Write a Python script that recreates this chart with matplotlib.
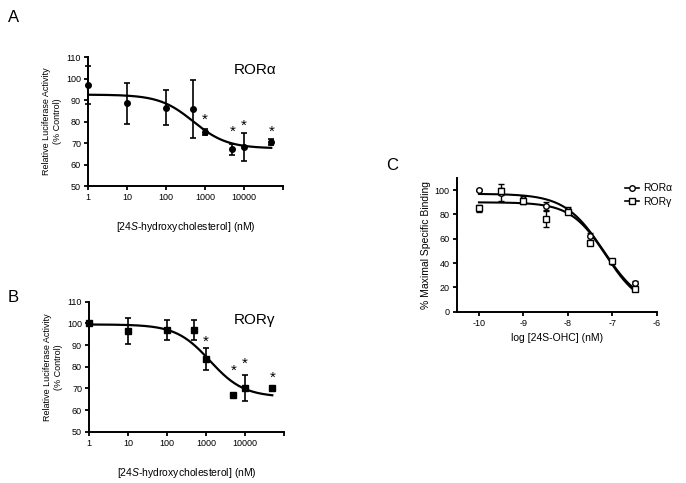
import numpy as np
import matplotlib
matplotlib.use("Agg")
import matplotlib.pyplot as plt

plt.rcParams['font.family'] = ['Liberation Sans', 'DejaVu Sans']
plt.rcParams['mathtext.fontset'] = 'custom'
plt.rcParams['mathtext.rm'] = 'Liberation Sans'
plt.rcParams['mathtext.it'] = 'Liberation Sans:italic'

# ---- Panel A / B data ----
conc = [1, 10, 100, 500, 1000, 5000, 10000, 50000]
ror_a_mean = [97, 88.5, 86.5, 86, 75, 67, 68, 70.5]
ror_a_err = [9, 9.5, 8, 13.5, 1.5, 2.5, 6.5, 1.5]
ror_a_star = [None, None, None, None, 81, 75, 78, 75]
ror_g_mean = [100, 96.5, 97, 97, 83.5, 67, 70, 70]
ror_g_err = [0.5, 6, 4.5, 4.5, 5, 1, 6, 1]
ror_g_star = [None, None, None, None, 91.5, 78, 81.5, 75]
# fitted sigmoid parameters (top, bottom, logEC50, hill)
fit_a = (92.5, 67.5, 2.7, 1.0)
fit_g = (99.5, 66.0, 3.1, 1.0)

# ---- Panel C data ----
log_c = [-10, -9.5, -9, -8.5, -8, -7.5, -7, -6.5]
bind_a = [100, 98, 93, 87, 84, 62, 41, 24]
bind_a_err = [1, 7, 2.5, 3, 2, 3, 1.5, 1.5]
bind_g = [85, 99, 91, 76.5, 82, 56.5, 42, 18.5]
bind_g_err = [3, 3, 2, 6.5, 2, 2, 1.5, 1.5]
fit_ca = (97, 3, -7.2, 1.0)
fit_cg = (90, 3, -7.15, 1.1)


def sig(logx, p):
    top, bot, lec, h = p
    return bot + (top - bot) / (1 + 10 ** ((logx - lec) * h))


fig = plt.figure(figsize=(6.86, 4.83), dpi=100)


def style_ax(ax):
    for s in ['top', 'right']:
        ax.spines[s].set_visible(False)
    for s in ['left', 'bottom']:
        ax.spines[s].set_linewidth(1.4)
    ax.tick_params(width=1.3, length=3, labelsize=6.5, pad=2)


def lum_panel(rect, mean, err, stars, fit, marker, label, letter, letter_xy, label_xy):
    ax = fig.add_axes(rect)
    style_ax(ax)
    ax.set_xscale('log')
    ax.set_xlim(1, 1e5)
    ax.set_ylim(50, 110)
    ax.set_yticks([50, 60, 70, 80, 90, 100, 110])
    ax.set_xticks([1, 10, 100, 1000, 10000, 100000])
    ax.set_xticklabels(['1', '10', '100', '1000', '10000', ''])
    ax.xaxis.set_minor_locator(matplotlib.ticker.NullLocator())
    lx = np.linspace(0, np.log10(50000), 200)
    ax.plot(10 ** lx, sig(lx, fit), color='black', lw=1.6, zorder=2)
    ax.errorbar(conc, mean, yerr=err, fmt=marker, color='black', ms=4,
                capsize=2.5, elinewidth=1.2, capthick=1.2, zorder=3, clip_on=False)
    for c, s in zip(conc, stars):
        if s is not None:
            ax.text(c, s, '*', ha='center', va='center', fontsize=11)
    ax.text(label_xy[0], label_xy[1], label, transform=ax.transAxes,
            fontsize=11, ha='left', va='center')
    ax.set_ylabel('Relative Luciferase Activity\n(% Control)', fontsize=6.5, labelpad=3)
    ax.set_xlabel('[24$\\mathit{S}$-hydroxycholesterol] (nM)', fontsize=7.5, labelpad=13)
    fig.text(letter_xy[0] / 686, 1 - letter_xy[1] / 483, letter, fontsize=12,
             ha='center', va='center')
    return ax


lum_panel([88 / 686, 1 - 186 / 483, 195 / 686, 129 / 483], ror_a_mean, ror_a_err,
          ror_a_star, fit_a, 'o', 'ROR\u03b1', 'A', (14, 18), (0.745, 0.9))
lum_panel([89 / 686, 1 - 431.7 / 483, 195 / 686, 130 / 483], ror_g_mean, ror_g_err,
          ror_g_star, fit_g, 's', 'ROR\u03b3', 'B', (13, 297), (0.74, 0.86))

# ---- Panel C ----
axc = fig.add_axes([456.7 / 686, 1 - 311.7 / 483, 200.3 / 686, 133.7 / 483])
style_ax(axc)
axc.set_xlim(-10.5, -6)
axc.set_ylim(0, 110)
axc.set_yticks([0, 20, 40, 60, 80, 100])
axc.set_xticks([-10, -9, -8, -7, -6])
axc.set_xticklabels(['-10', '-9', '-8', '-7', '-6'])
lx = np.linspace(-10, -6.5, 200)
axc.plot(lx, sig(lx, fit_ca), color='black', lw=1.5, zorder=2)
axc.plot(lx, sig(lx, fit_cg), color='black', lw=1.5, zorder=2)
axc.errorbar(log_c, bind_a, yerr=bind_a_err, fmt='o', mfc='white', mec='black',
             color='black', ms=4, mew=1, capsize=2, elinewidth=1, zorder=3)
axc.errorbar(log_c, bind_g, yerr=bind_g_err, fmt='s', mfc='white', mec='black',
             color='black', ms=4, mew=1, capsize=2, elinewidth=1, zorder=3)
axc.set_ylabel('% Maximal Specific Binding', fontsize=7.5, labelpad=3)
axc.set_xlabel('log [24S-OHC] (nM)', fontsize=7.5, labelpad=4)
h1, = axc.plot([], [], '-o', color='black', mfc='white', ms=4, lw=1.2)
h2, = axc.plot([], [], '-s', color='black', mfc='white', ms=4, lw=1.2)
fig.legend([h1, h2], ['ROR\u03b1', 'ROR\u03b3'], loc='center left',
           bbox_to_anchor=(616 / 686, 1 - 195 / 483), frameon=False, fontsize=7.5,
           handlelength=1.3, handletextpad=0.4, labelspacing=0.3)
fig.text(392 / 686, 1 - 165 / 483, 'C', fontsize=12, ha='center', va='center')

fig.savefig('out.png', dpi=100)
